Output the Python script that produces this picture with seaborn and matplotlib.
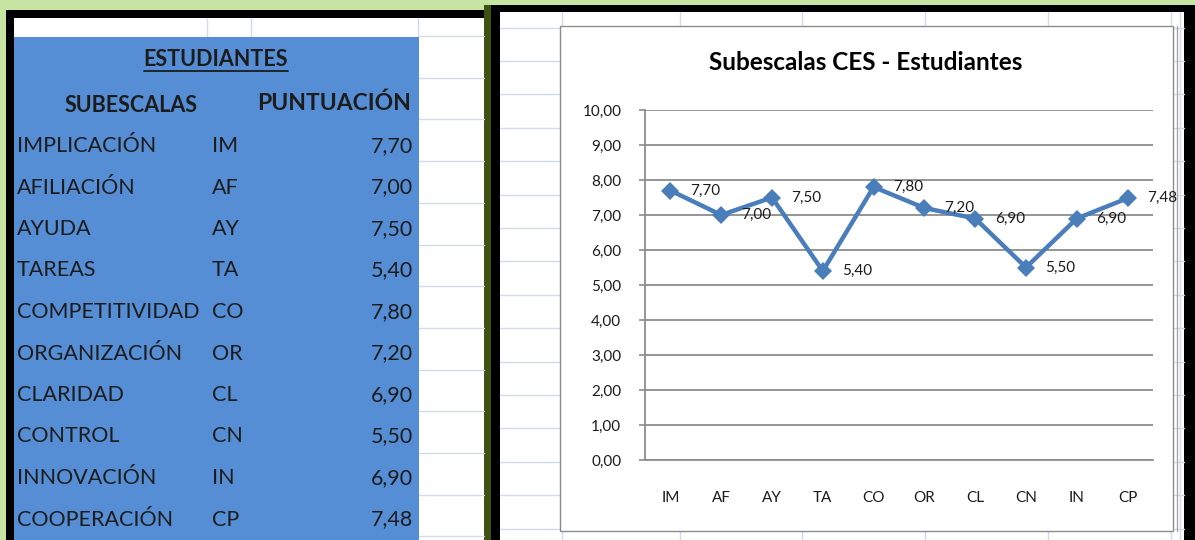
import numpy as np
import pandas as pd
import matplotlib
matplotlib.use("Agg")
import matplotlib.pyplot as plt
from matplotlib.patches import Rectangle
from matplotlib.ticker import FuncFormatter
import seaborn as sns

# datos de la tabla / grafico
subescalas = ["IMPLICACIÓN", "AFILIACIÓN", "AYUDA", "TAREAS", "COMPETITIVIDAD",
              "ORGANIZACIÓN", "CLARIDAD", "CONTROL", "INNOVACIÓN", "COOPERACIÓN"]
codigos = ["IM", "AF", "AY", "TA", "CO", "OR", "CL", "CN", "IN", "CP"]
puntuaciones = [7.70, 7.00, 7.50, 5.40, 7.80, 7.20, 6.90, 5.50, 6.90, 7.48]
titulo = "Subescalas CES - Estudiantes"

sns.set_theme(style="white")
plt.rcParams['font.family'] = ['Lato', 'DejaVu Sans']

W, H = 1195, 540
AZUL = '#558ed5'
LINEA = '#4a7ebb'
GRIS = '#8c8c8c'
REJILLA = '#d4dbe8'
TEXTO = '#1c1c1c'


def coma(v):
    return f"{v:.2f}".replace('.', ',')


df = pd.DataFrame({'pos': range(len(codigos)), 'codigo': codigos, 'puntuacion': puntuaciones})

fig = plt.figure(figsize=(W / 100, H / 100), dpi=100)
fig.patch.set_facecolor('#c8e4a2')

# fondo en coordenadas de pixel (captura de Excel)
bg = fig.add_axes([0, 0, 1, 1], zorder=0)
bg.set_xlim(0, W)
bg.set_ylim(H, 0)
bg.axis('off')


def rect(x0, y0, x1, y1, z=0, **kw):
    bg.add_patch(Rectangle((x0, y0), x1 - x0, y1 - y0, zorder=z, **kw))


def linea(xs, ys, z=1, color=REJILLA, lw=1):
    bg.plot(xs, ys, color=color, lw=lw, zorder=z)


# panel izquierdo
rect(6, 10, 484, H, facecolor='black', lw=0)
rect(484, 5, 491, H, facecolor='#3e5212', lw=0)
rect(14, 18, 484, H, z=0.5, facecolor='white', lw=0)
for y in np.arange(36, H, 41.7):
    linea([418, 484], [y, y])
for x in (207, 251, 418):
    linea([x, x], [18, 37])
rect(14, 37, 419, H, z=1.5, facecolor=AZUL, lw=0)

t = bg.text(216, 59, "ESTUDIANTES", ha='center', va='center', fontsize=15.5,
            fontweight='bold', color=TEXTO, zorder=3)
bg.text(131, 105, "SUBESCALAS", ha='center', va='center', fontsize=15.5,
        fontweight='bold', color=TEXTO, zorder=3)
bg.text(411, 103, "PUNTUACIÓN", ha='right', va='center', fontsize=16.5,
        fontweight='bold', color=TEXTO, zorder=3)
for i, (nombre, cod, val) in enumerate(zip(subescalas, codigos, puntuaciones)):
    y = 146 + i * 41.5
    bg.text(17, y, nombre, ha='left', va='center', fontsize=15.5, color=TEXTO, zorder=3)
    bg.text(212, y, cod, ha='left', va='center', fontsize=15.5, color=TEXTO, zorder=3)
    bg.text(413, y, coma(val), ha='right', va='center', fontsize=15.5, color=TEXTO, zorder=3)

# subrayado del encabezado
fig.canvas.draw()
bb = t.get_window_extent().transformed(bg.transData.inverted())
linea([bb.x0, bb.x1], [71, 71], z=3, color=TEXTO, lw=1.3)

# panel derecho
rect(491, 5, W, H, facecolor='black', lw=0)
rect(500, 12, 1184, H, z=0.5, facecolor='white', lw=0)
for y in np.arange(27.6, H, 33.4):
    linea([500, 1184], [y, y])
for x in (562, 680, 802, 925, 1048, 1171, 1180):
    linea([x, x], [12, H])
rect(560, 26, 1173, 531, z=2, facecolor='white', edgecolor=GRIS, lw=1)
linea([1177, 1177], [26, 531], z=2.5, color='#a8a8a8')
bg.text(866, 63, titulo, ha='center', va='center', fontsize=17.5,
        fontweight='bold', color='black', zorder=3)

# grafico de lineas
ax = fig.add_axes([645 / W, 1 - 460 / H, 508 / W, 350 / H], zorder=1)
ax.patch.set_alpha(0)
sns.lineplot(data=df, x='pos', y='puntuacion', ax=ax, color=LINEA, lw=3.2,
             marker='D', markersize=9.5, markeredgewidth=0, legend=False)
ax.set_xlim(-0.5, len(codigos) - 0.5)
ax.set_ylim(0, 10)
ax.set_yticks(np.arange(0, 11, 1))
ax.yaxis.set_major_formatter(FuncFormatter(lambda v, _: coma(v)))
ax.set_xticks(df['pos'])
ax.set_xticklabels(codigos)
ax.set_xticks(np.arange(-0.5, len(codigos), 1), minor=True)
ax.tick_params(axis='x', which='major', length=0, pad=22, labelsize=11, labelcolor=TEXTO)
ax.tick_params(axis='x', which='minor', length=4, width=1.2, color=GRIS, direction='out')
ax.tick_params(axis='y', length=4, width=1.2, color=GRIS, direction='out', pad=13,
               labelsize=11, labelcolor=TEXTO, left=True)
ax.grid(axis='y', color=GRIS, lw=1.3)
ax.set_axisbelow(True)
ax.set_xlabel('')
ax.set_ylabel('')
sns.despine(ax=ax)
for s in ('left', 'bottom'):
    ax.spines[s].set_color(GRIS)
    ax.spines[s].set_linewidth(1.3)

for x, v in zip(df['pos'], df['puntuacion']):
    ax.annotate(coma(v), (x, v), xytext=(14, 0), textcoords='offset points',
                ha='left', va='center', fontsize=11, color=TEXTO)

fig.savefig('out.png', dpi=100, facecolor=fig.get_facecolor())
